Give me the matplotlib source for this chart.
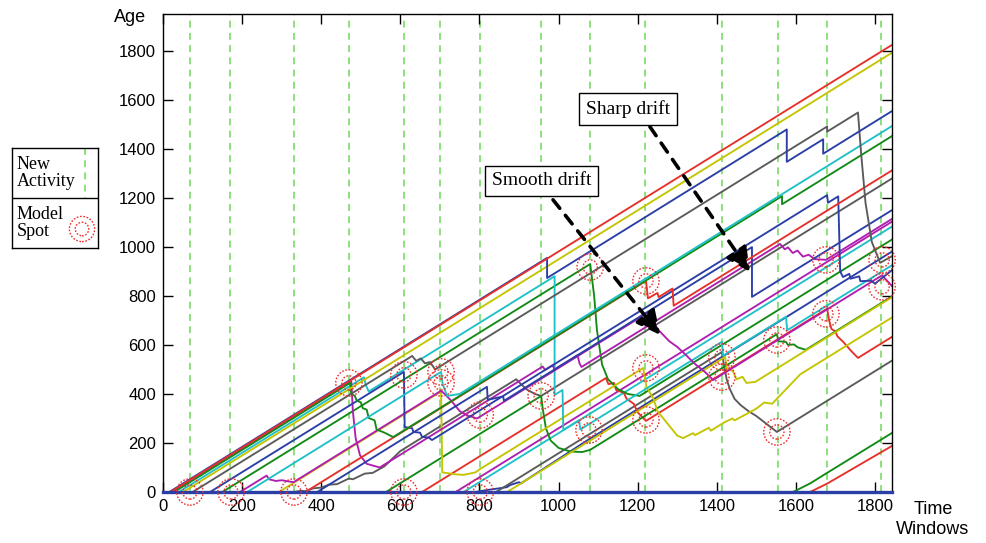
import numpy as np
import matplotlib
matplotlib.use('Agg')
import matplotlib.pyplot as plt

# each series: (time window, age) break points
red_top = [(19, 0), (1843, 1824)]
yellow_top = [(51, 0), (1843, 1792)]
blue_top = [(16, 0), (971, 955), (971, 873), (1577, 1479), (1577, 1347), (1669, 1439), (1669, 1380), (1843, 1554)]
gray_top = [(75, 0), (630, 555), (640, 535), (652, 545), (662, 525), (675, 530), (688, 500), (1679, 1491), (1679, 1470),
            (1757, 1548), (1765, 1380), (1776, 1180), (1792, 1020), (1813, 935), (1843, 962)]
cyan_c = [(213, 0), (703, 490), (707, 440), (718, 392), (735, 396), (750, 400), (1843, 1493)]
green_a = [(28, 0), (473, 445), (476, 400), (485, 392), (490, 372), (500, 366), (505, 342), (515, 336), (520, 302),
           (535, 292), (540, 255), (560, 242), (582, 224), (1565, 1207), (1565, 1174), (1843, 1452)]
red_2 = [(360, 0), (1221, 861), (1226, 790), (1250, 812), (1253, 795), (1288, 830), (1291, 760), (1843, 1312)]
gray_2 = [(330, 0), (350, 5), (360, 3), (380, 15), (400, 18), (420, 30), (440, 32), (470, 55), (480, 52), (510, 75),
          (530, 78), (560, 105), (600, 167), (893, 460), (905, 440), (920, 418), (940, 400), (956, 392), (1843, 1279)]
blue_sd = [(390, 0), (819, 429), (821, 376), (860, 390), (862, 372), (1489, 999), (1489, 796), (1843, 1150)]
magenta_a = [(25, 0), (476, 451), (480, 330), (487, 220), (498, 150), (515, 115), (548, 100), (960, 512), (966, 498),
             (985, 517), (990, 500), (1048, 558), (1053, 525), (1058, 510), (1560, 1012), (1572, 990), (1580, 998),
             (1592, 975), (1604, 985), (1618, 960), (1632, 968), (1648, 950), (1676, 947), (1843, 1114)]
magenta_c = [(195, 0), (262, 67), (268, 52), (285, 45), (300, 48), (330, 40), (703, 413), (712, 400), (730, 370),
             (750, 330), (770, 312), (794, 300), (1224, 730), (1236, 712), (1250, 665), (1262, 645), (1280, 615),
             (1300, 592), (1320, 562), (1345, 522), (1370, 490), (1391, 457), (1818, 884), (1843, 840)]
cyan_a = [(40, 0), (508, 468), (512, 440), (520, 410), (990, 880), (990, 396), (1010, 416), (1012, 253), (1052, 293),
          (1055, 255), (1413, 613), (1416, 556), (1575, 715), (1578, 660), (1843, 925)]
yellow_b = [(293, 0), (703, 410), (706, 80), (740, 72), (760, 70), (790, 80), (800, 92), (1214, 506), (1222, 430),
            (1240, 380), (1250, 330), (1265, 300), (1280, 270), (1300, 230), (1315, 220), (1340, 240), (1345, 232),
            (1380, 262), (1385, 250), (1420, 285), (1440, 300), (1445, 292), (1500, 340), (1520, 365), (1540, 360),
            (1611, 480), (1843, 712)]
yellow_c = [(870, 0), (1421, 551), (1426, 500), (1440, 495), (1450, 460), (1465, 470), (1475, 445), (1497, 449), (1843, 795)]
green_b = [(150, 0), (1080, 930), (1090, 800), (1097, 661), (1110, 520), (1125, 460), (1150, 420), (1175, 400),
           (1205, 392), (1843, 1030)]
green_c = [(564, 0), (956, 392), (960, 340), (968, 260), (980, 210), (1000, 180), (1030, 165), (1060, 163), (1080, 172),
           (1552, 644), (1556, 615), (1575, 612), (1580, 600), (1595, 602), (1605, 590), (1625, 580), (1843, 798)]
red_e = [(655, 0), (1120, 465), (1126, 440), (1140, 445), (1146, 415), (1165, 405), (1172, 380), (1190, 360), (1200, 325),
         (1221, 290), (1679, 748), (1684, 700), (1690, 665), (1700, 655), (1705, 635), (1720, 612), (1740, 575),
         (1757, 547), (1843, 633)]
gray_d = [(842, 0), (1413, 571), (1418, 520), (1425, 460), (1433, 420), (1445, 380), (1460, 355), (1480, 330),
          (1500, 310), (1520, 285), (1552, 245), (1843, 536)]
blue_p = [(119, 0), (609, 490), (611, 265), (630, 260), (633, 245), (650, 242), (655, 225), (672, 222), (680, 212),
          (1679, 1211), (1681, 1180), (1707, 1206), (1712, 900), (1719, 877), (1735, 890), (1738, 870), (1760, 880),
          (1763, 860), (1790, 862), (1800, 850), (1843, 905)]
blue_r = [(790, 0), (819, 8), (850, 15), (870, 20), (877, 28), (900, 40), (905, 35), (1072, 210), (1413, 551), (1843, 981)]
magenta_d = [(740, 0), (1843, 1103)]
cyan_d = [(760, 0), (1843, 1083)]
green_f = [(1593, 0), (1636, 35), (1679, 78), (1843, 241)]
red_f = [(1636, 0), (1680, 35), (1843, 188)]
baseline = [(0, 0), (1843, 0)]

new_activity = [68, 170, 331, 470, 609, 700, 802, 956, 1080, 1218, 1414, 1554, 1678, 1814]
spot_t = [68, 172, 331, 470, 609, 609, 703, 703, 802, 802, 956, 1080, 1077, 1221, 1221, 1221, 1413, 1413,
          1552, 1552, 1676, 1676, 1818, 1818]
spot_age = [0, 0, 0, 445, 0, 478, 490, 445, 314, 0, 392, 918, 253, 861, 506, 294, 551, 469,
            245, 620, 727, 947, 947, 837]

x_ticks = [0, 200, 400, 600, 800, 1000, 1200, 1400, 1600, 1800]
y_ticks = [0, 200, 400, 600, 800, 1000, 1200, 1400, 1600, 1800]

BLUE = '#2a3ea6'
RED = '#e6302a'
YELLOW = '#c4c400'
CYAN = '#1fc0c8'
GREEN = '#128a16'
GRAY = '#5a5a5a'
MAGENTA = '#b01eb0'
SPOT = '#ee2f2f'
NEWACT = '#6fd65a'

series = [
    (gray_2, GRAY), (blue_r, BLUE), (red_f, RED), (green_f, GREEN), (cyan_d, CYAN), (magenta_d, MAGENTA),
    (gray_d, GRAY), (red_e, RED), (green_c, GREEN), (green_b, GREEN), (yellow_c, YELLOW), (yellow_b, YELLOW),
    (cyan_a, CYAN), (magenta_c, MAGENTA), (magenta_a, MAGENTA), (blue_p, BLUE), (blue_sd, BLUE), (red_2, RED),
    (green_a, GREEN), (cyan_c, CYAN), (gray_top, GRAY), (yellow_top, YELLOW), (blue_top, BLUE), (red_top, RED),
]

plt.rcParams['font.family'] = ['Liberation Sans', 'DejaVu Sans']

fig = plt.figure(figsize=(9.86, 5.43), dpi=100)
ax = fig.add_axes([163 / 986, 51 / 543, 729 / 986, 478 / 543])

for xv in new_activity:
    ax.axvline(xv, color=NEWACT, lw=1.1, ls=(0, (4.5, 3.5)), zorder=1)

for pts, col in series:
    pts = np.array(pts)
    ax.plot(pts[:, 0], pts[:, 1], color=col, lw=1.35, zorder=2)

bl = np.array(baseline)
ax.plot(bl[:, 0], bl[:, 1], color=BLUE, lw=2.4, zorder=3, clip_on=False)

ax.scatter(spot_t, spot_age, s=360, facecolors='none', edgecolors=SPOT, linewidths=1.0,
           linestyles=(0, (1.2, 1.2)), zorder=4, clip_on=False)
ax.scatter(spot_t, spot_age, s=105, facecolors='none', edgecolors=SPOT, linewidths=1.0,
           linestyles=(0, (1.2, 1.2)), zorder=4, clip_on=False)

# drift annotations
arrow = dict(arrowstyle='-|>,head_length=0.9,head_width=0.45', lw=2.6, ls=(0, (3, 2.5)),
             color='k', shrinkA=0, shrinkB=0, mutation_scale=16)
ax.annotate('', xy=(1484, 898), xytext=(1231, 1490), arrowprops=arrow, zorder=6)
ax.annotate('', xy=(1257, 641), xytext=(986, 1192), arrowprops=arrow, zorder=6)
box = dict(boxstyle='square,pad=0.35', fc='white', ec='k', lw=1.0)
ax.text(1176, 1563, 'Sharp drift', ha='center', va='center', fontsize=14,
        family=['Liberation Serif', 'DejaVu Serif'], bbox=box, zorder=7)
ax.text(958, 1269, 'Smooth drift', ha='center', va='center', fontsize=14,
        family=['Liberation Serif', 'DejaVu Serif'], bbox=box, zorder=7)

ax.set_xlim(0, 1843)
ax.set_ylim(0, 1950)
ax.set_xticks(x_ticks)
ax.set_yticks(y_ticks)
ax.tick_params(direction='in', length=7, width=1, top=True, right=True, labelsize=12, pad=5)
for sp in ax.spines.values():
    sp.set_linewidth(1.0)

fig.text(130 / 986, 1 - 18 / 543, 'Age', ha='center', va='center', fontsize=13)
fig.text(933 / 986, 1 - 510 / 543, 'Time', ha='center', va='center', fontsize=13)
fig.text(933 / 986, 1 - 530 / 543, 'Windows', ha='center', va='center', fontsize=13)

# legend box drawn by hand, outside the axes
lg = fig.add_axes([12 / 986, 1 - 248 / 543, 86 / 986, 100 / 543])
lg.set_xlim(0, 86)
lg.set_ylim(100, 0)
lg.set_xticks([])
lg.set_yticks([])
for sp in lg.spines.values():
    sp.set_linewidth(1.0)
lg.axhline(50, color='k', lw=1.0)
lg.plot([73, 73], [0, 50], color=NEWACT, lw=1.1, ls=(0, (4.5, 3.5)))
lg.scatter([70], [81], s=330, facecolors='none', edgecolors=SPOT, linewidths=1.0, linestyles=(0, (1.2, 1.2)))
lg.scatter([70], [81], s=95, facecolors='none', edgecolors=SPOT, linewidths=1.0, linestyles=(0, (1.2, 1.2)))
lg.text(5, 25, 'New\nActivity', ha='left', va='center', fontsize=13, linespacing=0.95,
        family=['Liberation Serif', 'DejaVu Serif'])
lg.text(5, 75, 'Model\nSpot', ha='left', va='center', fontsize=13, linespacing=0.95,
        family=['Liberation Serif', 'DejaVu Serif'])

plt.savefig('out.png', dpi=100)
